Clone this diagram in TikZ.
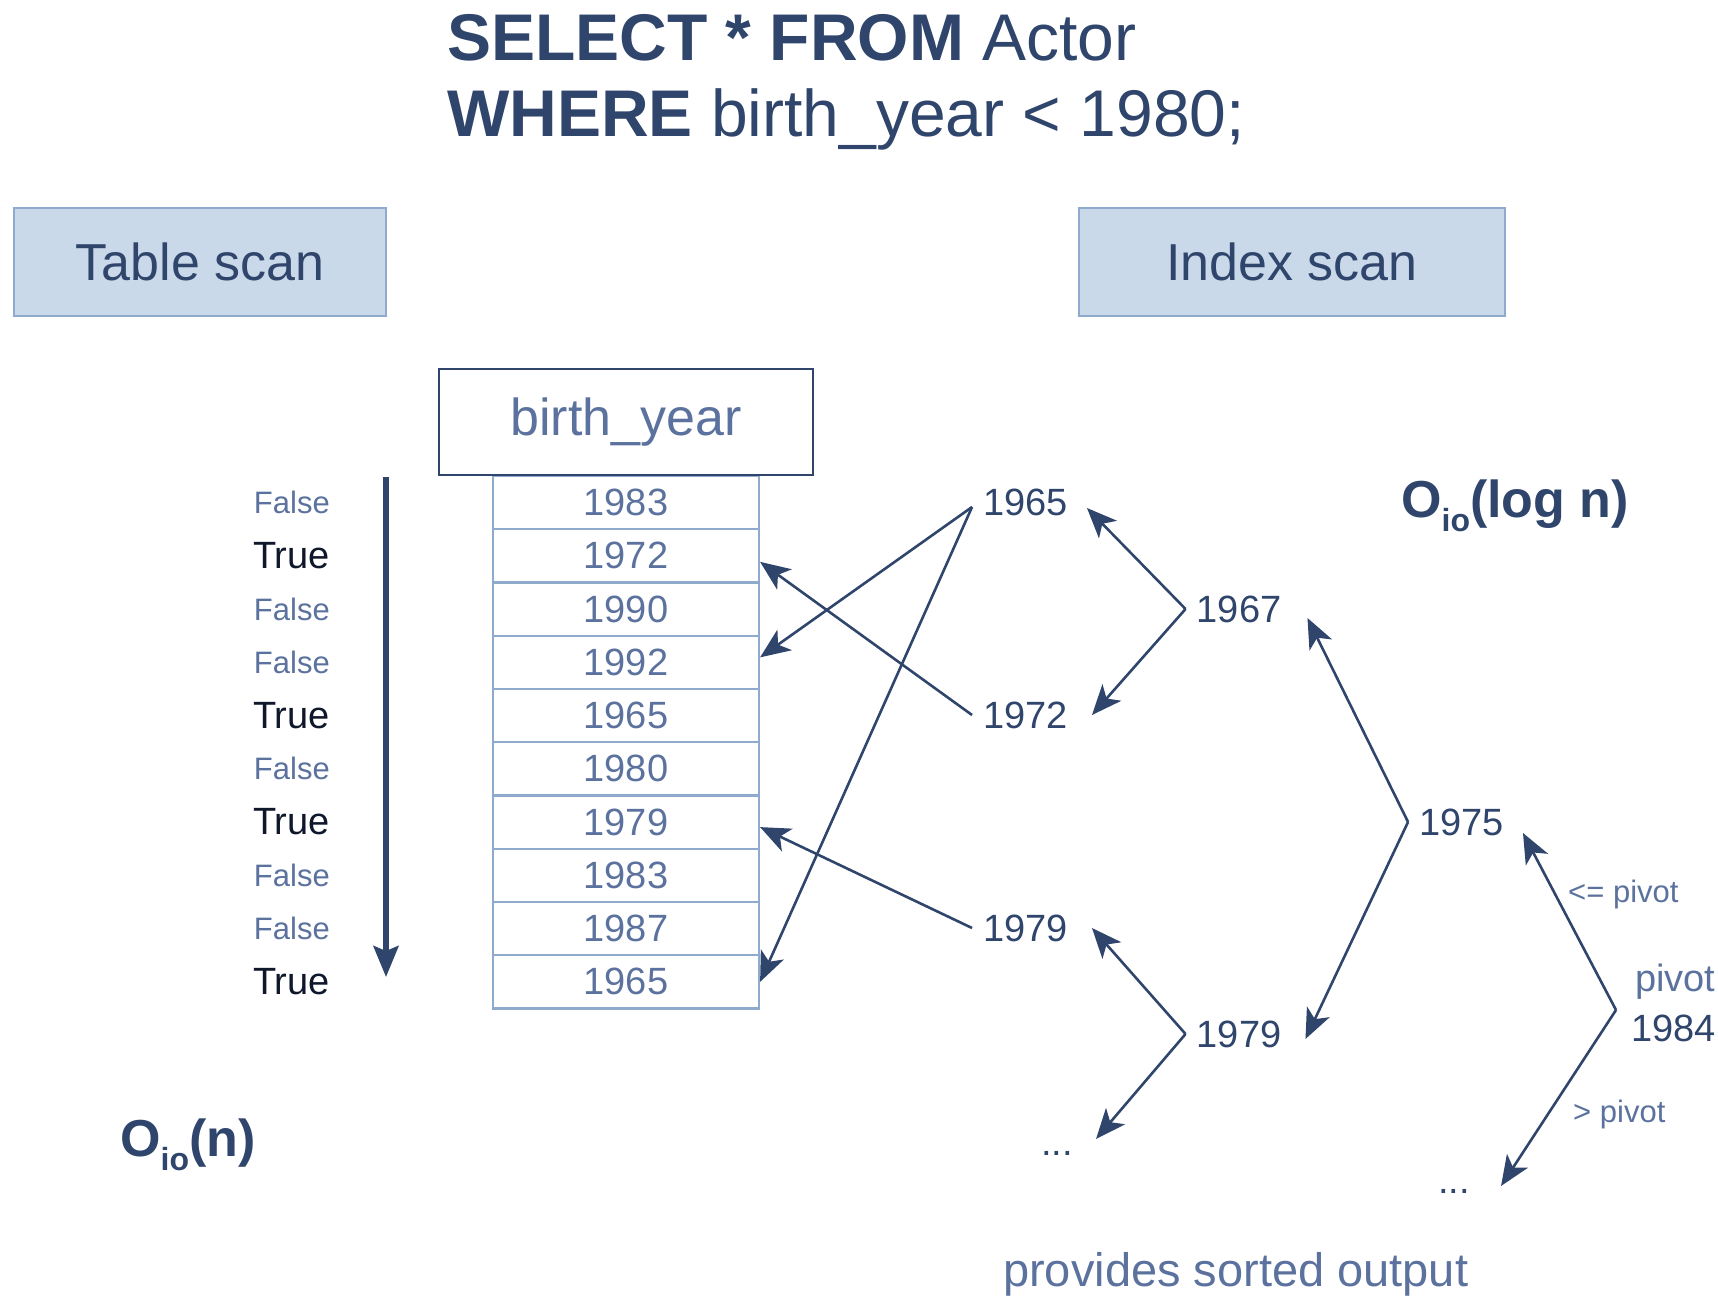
\documentclass[tikz,border=0pt]{standalone}
\usepackage{fontspec}
\setmainfont{Liberation Sans}
\usetikzlibrary{arrows.meta}
\definecolor{navy}{RGB}{47,69,107}
\definecolor{lightt}{RGB}{92,114,158}
\definecolor{boxfill}{RGB}{202,217,234}
\definecolor{boxline}{RGB}{142,170,204}
\definecolor{truec}{RGB}{14,24,42}
\newcommand{\fsz}[1]{\fontsize{#1}{#1}\selectfont}
\newcommand{\oio}{O\raisebox{-14pt}{\fsz{32}io}}
\begin{document}
\begin{tikzpicture}[x=1pt,y=-1pt,
  hdrbox/.style={draw=boxline, line width=2.2pt, fill=boxfill, minimum height=108pt, text=navy, font=\fsz{52}},
  cell/.style={draw=boxline, line width=2.2pt, minimum width=266pt, minimum height=53.25pt, text=lightt, font=\fsz{38}, inner sep=0pt},
  tnum/.style={text=navy, font=\fsz{38}, inner xsep=11pt, inner ysep=0pt},
  flab/.style={text=lightt, font=\fsz{31}, inner sep=0pt, anchor=east},
  tlab/.style={text=truec, font=\fsz{38}, inner sep=0pt, anchor=east},
  small/.style={text=lightt, font=\fsz{31}, inner sep=0pt, anchor=west},
  conn/.style={draw=navy, line width=2.6pt, -{Stealth[length=30pt,width=25pt,inset=8pt,fill=navy]}},
  bigconn/.style={draw=navy, line width=5.5pt, -{Stealth[length=31pt,width=25pt,inset=5pt,fill=navy]}},
  bigtxt/.style={text=navy, font=\fsz{52}\bfseries, inner sep=0pt, anchor=base west},
]
\useasboundingbox (0,0) rectangle (1718,1312);
% title
\node[anchor=base west, inner sep=0pt, text=navy, font=\fsz{66}] (q1) at (447,60) {\textbf{SELECT * FROM} Actor};
\node[anchor=base west, inner sep=0pt, text=navy, font=\fsz{66}] (q2) at (447,136) {\textbf{WHERE} birth\_year < 1980;};
% header boxes
\node[hdrbox, minimum width=372pt] (ts) at (200,262) {Table scan};
\node[hdrbox, minimum width=426pt] (is) at (1292,262) {Index scan};
% table
\foreach \v [count=\i from 0] in {1983,1972,1990,1992,1965,1980,1979,1983,1987,1965} {
  \node[cell] (r\i) at (626, 502.6+53.25*\i) {\v};
}
\node[draw=navy, line width=2.2pt, fill=white, minimum width=374pt, minimum height=106pt, text=lightt, font=\fsz{52}] (hdr) at (626,422) {birth\_year};
% labels
\foreach \st/\l [count=\i from 0] in {flab/False,tlab/True,flab/False,flab/False,tlab/True,flab/False,tlab/True,flab/False,flab/False,tlab/True} {
  \node[\st] (l\i) at (330, 502.6+53.25*\i) {\l};
}
\coordinate (vs) at (386,477);
\coordinate (ve) at (386,977);
\draw[bigconn] (vs) -- (ve);
\node[bigtxt] (on) at (120,1156) {\oio(n)};
% tree
\node[tnum] (a1965) at (1025.5,502) {1965};
\node[tnum] (a1972) at (1025.5,715) {1972};
\node[tnum] (a1979) at (1025.5,928) {1979};
\node[tnum] (b1967) at (1239,609) {1967};
\node[tnum] (b1979) at (1239,1034) {1979};
\node[tnum] (c1975) at (1461.5,822) {1975};
\node[tnum, anchor=base] (d1) at (1057,1155) {...};
\node[tnum, anchor=base] (d2) at (1454,1193) {...};
\node[text=lightt, font=\fsz{38}, inner sep=0pt, anchor=west] (pv1) at (1635,982) {pivot};
\node[text=navy, font=\fsz{38}, inner sep=0pt, anchor=west] (pv2) at (1631,1028) {1984};
\coordinate (pv) at (1616,1010);
\node[bigtxt] (olog) at (1401,517) {\oio(log n)};
\node[small] (le) at (1568,894) {<= pivot};
\node[small] (gt) at (1573,1114) {> pivot};
\node[text=lightt, font=\fsz{47}, inner sep=0pt, anchor=base west] (pso) at (1003,1286) {provides sorted output};
% tree connectors
\draw[conn] (b1967.west) -- ([xshift=8pt,yshift=-6pt]a1965.east);
\draw[conn] (b1967.west) -- ([xshift=13pt]a1972.east);
\draw[conn] (c1975.west) -- ([xshift=15pt,yshift=-9pt]b1967.east);
\draw[conn] (c1975.west) -- ([xshift=13pt,yshift=-5pt]b1979.east);
\draw[conn] (b1979.west) -- ([xshift=13pt]a1979.east);
\draw[conn] (b1979.west) -- ([xshift=12pt,yshift=14pt]d1.east);
\draw[conn] (pv) -- ([xshift=8pt,yshift=-11pt]c1975.east);
\draw[conn] (pv) -- ([xshift=20pt,yshift=5pt]d2.east);
% to table
\draw[conn] ([yshift=-5pt]a1965.west) -- ([yshift=5pt]r3.east);
\draw[conn] ([yshift=-5pt]a1965.west) -- (r9.east);
\draw[conn] (a1972.west) -- ([yshift=-6pt]r1.east);
\draw[conn] (a1979.west) -- ([yshift=-5pt]r6.east);
\end{tikzpicture}
\end{document}
